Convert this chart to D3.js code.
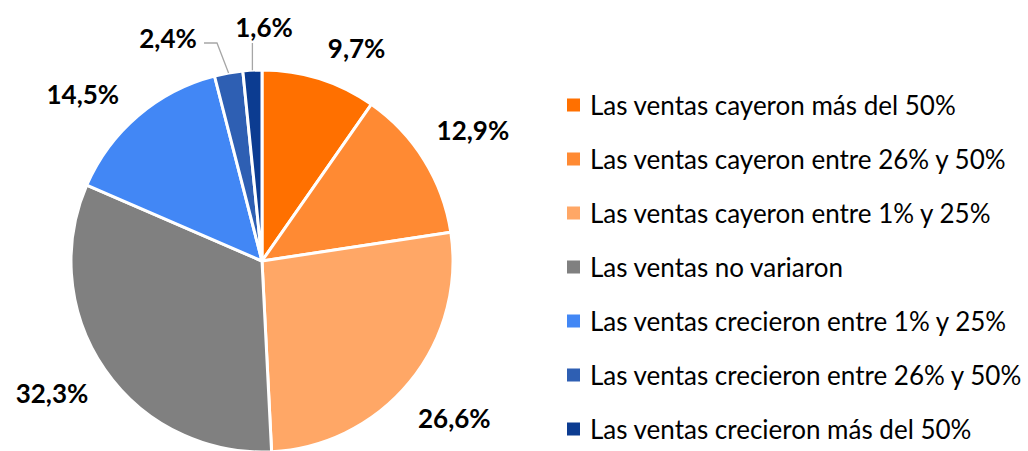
<!DOCTYPE html>
<html>
<head>
<meta charset="utf-8">
<script src="https://cdn.jsdelivr.net/npm/d3@7"></script>
<style>
  html, body { margin: 0; padding: 0; background: #fff; }
  text { font-family: Lato, "Liberation Sans", sans-serif; }
</style>
</head>
<body>
<div id="chart"></div>
<script>
// Datos
const categorias = [
  "Las ventas cayeron más del 50%",
  "Las ventas cayeron entre 26% y 50%",
  "Las ventas cayeron entre 1% y 25%",
  "Las ventas no variaron",
  "Las ventas crecieron entre 1% y 25%",
  "Las ventas crecieron entre 26% y 50%",
  "Las ventas crecieron más del 50%"
];
const valores = [9.7, 12.9, 26.6, 32.3, 14.5, 2.4, 1.6];
const colores = ["#ff7000", "#ff8a33", "#ffa766", "#808080", "#4287f5", "#2e5fb3", "#0c3c91"];

const width = 1028, height = 451;
const cx = 262, cy = 261, radius = 191;

const svg = d3.select("#chart").append("svg")
  .attr("width", width)
  .attr("height", height);

const pie = d3.pie().sort(null).value(d => d);
const arcs = pie(valores);

const arc = d3.arc().innerRadius(0).outerRadius(radius);

const g = svg.append("g").attr("transform", `translate(${cx},${cy})`);

g.selectAll("path")
  .data(arcs)
  .enter().append("path")
  .attr("d", arc)
  .attr("fill", (d, i) => colores[i])
  .attr("stroke", "#fff")
  .attr("stroke-width", 3)
  .attr("stroke-linejoin", "round");

const fmt = v => d3.format(".1f")(v).replace(".", ",") + "%";
const mid = d => (d.startAngle + d.endAngle) / 2;
const rad = deg => deg * Math.PI / 180;

// etiquetas fuera del pastel (ajuste de ángulo/radio como en Excel)
const labelR = radius * 1.3;
const ajuste = {0: {da: 6.5, r: 233}, 3: {da: 2.5, r: labelR}, 4: {da: -6.5, r: 245}};
// etiquetas pequeñas con línea guía (las dos últimas)
const guias = {
  5: {lx: 168, ly: 38, elbow: [217, 43], end: [204, 43]},
  6: {lx: 264, ly: 27, elbow: null, end: null}
};

arcs.forEach((d, i) => {
  const a = mid(d);
  let x, y;
  if (guias[i]) {
    const p = guias[i];
    const sx = cx + Math.sin(a) * radius, sy = cy - Math.cos(a) * radius;
    const pts = p.elbow ? [[sx, sy], p.elbow, p.end] : [[sx, sy], [sx, 43]];
    svg.append("path")
      .attr("d", d3.line()(pts))
      .attr("fill", "none")
      .attr("stroke", "#a6a6a6")
      .attr("stroke-width", 1.3);
    x = p.lx; y = p.ly;
  } else {
    const adj = ajuste[i] || {da: 0, r: labelR};
    const aa = a + rad(adj.da);
    x = cx + Math.sin(aa) * adj.r;
    y = cy - Math.cos(aa) * adj.r;
  }
  svg.append("text")
    .attr("x", x).attr("y", y)
    .attr("text-anchor", "middle")
    .attr("dominant-baseline", "central")
    .attr("font-size", 26).attr("font-weight", "bold")
    .attr("fill", "#000")
    .text(fmt(valores[i]));
});

// leyenda
const ly = d3.scalePoint().domain(categorias).range([105, 429]);
const leg = svg.append("g").selectAll("g")
  .data(categorias)
  .enter().append("g")
  .attr("transform", d => `translate(567,${ly(d)})`);

leg.append("rect")
  .attr("x", 0).attr("y", -6.5)
  .attr("width", 13).attr("height", 13)
  .attr("fill", (d, i) => colores[i]);

leg.append("text")
  .attr("x", 23).attr("y", 0)
  .attr("dominant-baseline", "central")
  .attr("font-size", 26)
  .attr("fill", "#000")
  .text(d => d);
</script>
</body>
</html>
